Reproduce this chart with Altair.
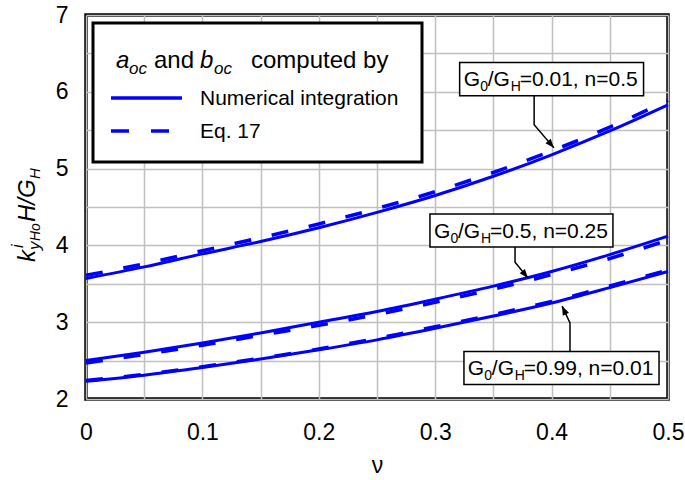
import math
import altair as alt
import pandas as pd

# ---------------- data ----------------
nu = [0.0, 0.05, 0.10, 0.15, 0.20, 0.25, 0.30, 0.35, 0.40, 0.45, 0.50]
top_num = [3.57, 3.72, 3.89, 4.05, 4.23, 4.43, 4.65, 4.90, 5.18, 5.49, 5.83]
top_eq = [3.61, 3.76, 3.93, 4.10, 4.28, 4.48, 4.70, 4.95, 5.23, 5.54, 5.89]
mid_num = [2.50, 2.61, 2.73, 2.86, 3.00, 3.14, 3.30, 3.47, 3.66, 3.88, 4.12]
mid_eq = [2.47, 2.58, 2.70, 2.83, 2.96, 3.10, 3.26, 3.43, 3.62, 3.83, 4.07]
bot_num = [2.23, 2.31, 2.41, 2.52, 2.64, 2.77, 2.92, 3.08, 3.25, 3.45, 3.66]
bot_eq = [2.24, 2.32, 2.42, 2.53, 2.65, 2.79, 2.94, 3.10, 3.27, 3.47, 3.68]

x_grid = [0, 0.05, 0.1, 0.15, 0.2, 0.25, 0.3, 0.35, 0.4, 0.45, 0.5]
x_labels = [0, 0.1, 0.2, 0.3, 0.4, 0.5]
y_grid = [2, 2.5, 3, 3.5, 4, 4.5, 5, 5.5, 6, 6.5, 7]
y_labels = [2, 3, 4, 5, 6, 7]

legend_title = "computed by"
legend_items = ["Numerical integration", "Eq. 17"]

ann_values = ["=0.01, n=0.5", "=0.5, n=0.25", "=0.99, n=0.01"]
# annotation boxes (data units): x1, x2, y_top, y_bottom
ann_box_x1 = [0.321, 0.2955, 0.3247]
ann_box_x2 = [0.479, 0.4527, 0.4923]
ann_box_yt = [6.38, 4.41, 2.62]
ann_box_yb = [5.95, 3.98, 2.19]
ann_text_x = [0.3245, 0.299, 0.328]
ann_text_y = [6.07, 4.10, 2.31]
# arrow polylines (data units)
arrow_x = [[0.385, 0.385, 0.402], [0.3686, 0.3686, 0.3797], [0.4158, 0.4158, 0.409]]
arrow_y = [[5.95, 5.57, 5.27], [3.98, 3.78, 3.575], [2.62, 2.99, 3.21]]

# ---------------- layout / style ----------------
W, H = 582, 384
FONT = "Liberation Sans"
BLUE = "#0000ff"
GRID = "#c0c0c0"

X_SCALE = alt.Scale(domain=[0, 0.5], nice=False, zero=False)
Y_SCALE = alt.Scale(domain=[2, 7], nice=False, zero=False)

x_axis = alt.Axis(
    values=x_grid, format="~g",
    labelExpr="indexof(%s, datum.value) >= 0 ? datum.label : ''" % str(x_labels),
    title="ν", grid=True, gridColor=GRID, gridWidth=1.5, ticks=False, domain=False,
    labelFont=FONT, labelFontSize=23, labelColor="black", labelPadding=22,
    labelOverlap=False, labelFlush=False,
    titleFont=FONT, titleFontSize=23, titleFontWeight="normal", titleColor="black",
    titlePadding=10,
)
y_axis = alt.Axis(
    values=y_grid, format="~g",
    labelExpr="indexof(%s, datum.value) >= 0 ? datum.label : ''" % str(y_labels),
    title=None, grid=True, gridColor=GRID, gridWidth=1.5, ticks=False, domain=False,
    labelFont=FONT, labelFontSize=23, labelColor="black", labelPadding=18,
    labelOverlap=False, labelFlush=False,
)


def X(f):
    return alt.X(f"{f}:Q", scale=X_SCALE, axis=x_axis)


def Y(f):
    return alt.Y(f"{f}:Q", scale=Y_SCALE, axis=y_axis)


# ---------------- curves ----------------
rows = []
for name, num, eq in [("top", top_num, top_eq), ("mid", mid_num, mid_eq), ("bot", bot_num, bot_eq)]:
    for i, v in enumerate(nu):
        rows.append({"curve": name, "method": "num", "nu": v, "val": num[i]})
        rows.append({"curve": name, "method": "eq", "nu": v, "val": eq[i]})
df = pd.DataFrame(rows)

dashed = alt.Chart(df[df.method == "eq"]).mark_line(
    color=BLUE, strokeWidth=3.6, strokeDash=[17, 21], interpolate="monotone"
).encode(x=X("nu"), y=Y("val"), detail="curve:N")

solid = alt.Chart(df[df.method == "num"]).mark_line(
    color=BLUE, strokeWidth=3, interpolate="monotone"
).encode(x=X("nu"), y=Y("val"), detail="curve:N")

one = pd.DataFrame({"k": [0]})

# ---------------- legend box ----------------
leg_box = alt.Chart(one).mark_rect(fill="white", stroke="black", strokeWidth=3).encode(
    x=alt.value(7), x2=alt.value(336), y=alt.value(8), y2=alt.value(147)
)
leg_solid = alt.Chart(one).mark_rule(color=BLUE, strokeWidth=3.5).encode(
    x=alt.value(25), x2=alt.value(96), y=alt.value(83)
)
leg_dash = alt.Chart(one).mark_rule(color=BLUE, strokeWidth=3.5, strokeDash=[18, 22]).encode(
    x=alt.value(25), x2=alt.value(83), y=alt.value(116)
)


def ptext(txt, x, y, size, style="normal", dx=0, dy=0, angle=None, align="left"):
    kw = dict(align=align, baseline="alphabetic", font=FONT, fontSize=size,
              fontStyle=style, color="black", dx=dx, dy=dy)
    if angle is not None:
        kw["angle"] = angle
    return alt.Chart(pd.DataFrame({"t": [txt]})).mark_text(**kw).encode(
        text="t:N", x=alt.value(x), y=alt.value(y)
    )


leg_texts = [
    ptext("a", 30, 53, 24, "italic"),
    ptext("oc", 43, 53, 17, "italic", dy=6),
    ptext("and", 68, 53, 24),
    ptext("b", 114, 53, 24, "italic"),
    ptext("oc", 128, 53, 17, "italic", dy=6),
    ptext(legend_title, 165, 53, 24),
    ptext(legend_items[0], 114, 90, 21),
    ptext(legend_items[1], 114, 123, 21),
]

# ---------------- y-axis title (rotated, with sub/superscripts) ----------------
TX, TY = -51, 247
ytitle = [
    ptext("k", TX, TY, 24, "italic", angle=270),
    ptext("i", TX, TY, 16, "italic", dx=14, dy=-12, angle=270),
    ptext("y", TX, TY, 17, "italic", dx=12, dy=5, angle=270),
    ptext("Ho", TX, TY, 14, "italic", dx=21, dy=5, angle=270),
    ptext("H/G", TX, TY, 24, "italic", dx=40, angle=270),
    ptext("H", TX, TY, 15, "italic", dx=83, dy=5, angle=270),
]

# ---------------- annotations ----------------
box_df = pd.DataFrame({"x1": ann_box_x1, "x2": ann_box_x2, "y1": ann_box_yt, "y2": ann_box_yb})
ann_boxes = alt.Chart(box_df).mark_rect(fill="white", stroke="black", strokeWidth=1.5).encode(
    x=X("x1"), x2="x2:Q", y=Y("y1"), y2="y2:Q"
)

arr_rows = []
head_rows = []
px_per_x = W / 0.5
px_per_y = H / 5.0
for i in range(3):
    for j in range(3):
        arr_rows.append({"id": i, "seq": j, "ax": arrow_x[i][j], "ay": arrow_y[i][j]})
    ddx = (arrow_x[i][2] - arrow_x[i][1]) * px_per_x
    ddy = -(arrow_y[i][2] - arrow_y[i][1]) * px_per_y
    ang = math.degrees(math.atan2(ddx, -ddy)) % 360
    head_rows.append({"hx": arrow_x[i][2], "hy": arrow_y[i][2], "ang": ang})
arrows = alt.Chart(pd.DataFrame(arr_rows)).mark_line(color="black", strokeWidth=1.5).encode(
    x=X("ax"), y=Y("ay"), detail="id:N", order="seq:Q"
)
heads = alt.Chart(pd.DataFrame(head_rows)).mark_point(
    shape="M0,0L-0.38,1L0.38,1Z", filled=True, fill="black", opacity=1, size=324, strokeWidth=0
).encode(x=X("hx"), y=Y("hy"), angle=alt.Angle("ang:Q", scale=None))

ann_texts = []
for i in range(3):
    d = pd.DataFrame({"tx": [ann_text_x[i]], "ty": [ann_text_y[i]]})
    pieces = [("G", 0, 21, 0), ("0", 16.5, 14, 5), ("/G", 24, 21, 0), ("H", 47, 14, 5), (ann_values[i], 56, 21, 0)]
    for txt, dx, size, dy in pieces:
        ann_texts.append(
            alt.Chart(d).mark_text(align="left", baseline="alphabetic", font=FONT, fontSize=size,
                                   color="black", dx=dx, dy=dy, text=txt)
            .encode(x=X("tx"), y=Y("ty"))
        )

chart = alt.layer(
    dashed, solid, leg_box, leg_solid, leg_dash, *leg_texts, *ytitle,
    ann_boxes, arrows, heads, *ann_texts
).properties(
    width=W, height=H,
    autosize=alt.AutoSizeParams(type="none"),
    padding={"left": 86, "top": 15, "right": 17, "bottom": 81},
    background="white",
).configure_view(stroke="black", strokeWidth=3.5)

chart.save("out.html", embed_options={"renderer": "svg", "actions": False})
